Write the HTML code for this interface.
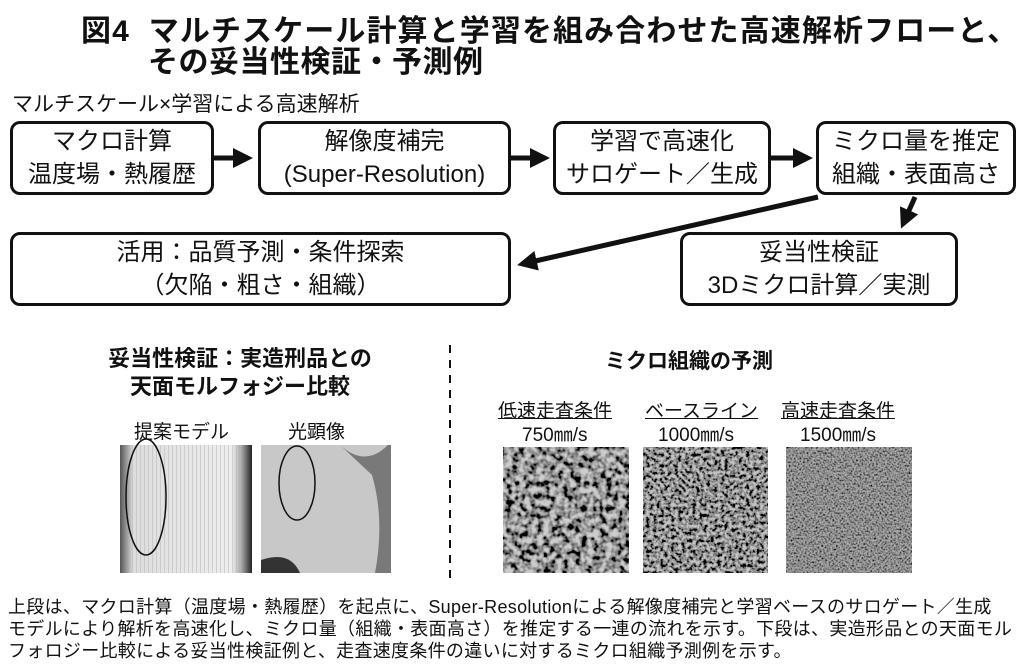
<!DOCTYPE html>
<html><head><meta charset="utf-8"><style>
body{margin:0;width:1024px;height:668px;background:#fff;position:relative;overflow:hidden;font-family:"Liberation Sans","Noto Sans CJK JP",sans-serif;color:#111}
.a{position:absolute;white-space:nowrap}
.box{position:absolute;border:3px solid #111;border-radius:10px;box-sizing:border-box;display:flex;flex-direction:column;justify-content:center;align-items:center;font-size:24px;line-height:33px}
</style></head><body>
<div class="a" style="left:81px;top:16px;font-size:30px;font-weight:bold;line-height:32px;letter-spacing:1.1px">図4&nbsp; マルチスケール計算と学習を組み合わせた高速解析フローと、</div>
<div class="a" style="left:148px;top:47px;font-size:30px;font-weight:bold;line-height:32px;letter-spacing:0.5px">その妥当性検証・予測例</div>
<div class="a" style="left:12px;top:88px;font-size:21px">マルチスケール×学習による高速解析</div>

<div class="box" style="left:10px;top:121px;width:204px;height:74px"><div>マクロ計算</div><div>温度場・熱履歴</div></div>
<div class="box" style="left:258px;top:121px;width:253px;height:74px"><div>解像度補完</div><div>(Super-Resolution)</div></div>
<div class="box" style="left:553px;top:121px;width:218px;height:74px"><div>学習で高速化</div><div>サロゲート／生成</div></div>
<div class="box" style="left:816px;top:121px;width:200px;height:74px"><div>ミクロ量を推定</div><div>組織・表面高さ</div></div>
<div class="box" style="left:10px;top:232px;width:501px;height:74px"><div>活用：品質予測・条件探索</div><div>（欠陥・粗さ・組織）</div></div>
<div class="box" style="left:680px;top:232px;width:278px;height:74px"><div>妥当性検証</div><div>3Dミクロ計算／実測</div></div>

<svg class="a" style="left:0;top:0" width="1024" height="668">
<defs><marker id="m" markerWidth="4" markerHeight="4" refX="3" refY="2" orient="auto" markerUnits="strokeWidth"><path d="M0,0L4,2L0,4z" fill="#111"/></marker>
<filter id="n1" x="0" y="0" width="1" height="1"><feTurbulence type="fractalNoise" baseFrequency="0.16" numOctaves="2" seed="3"/><feColorMatrix type="matrix" values="0 0 0 0 0  0 0 0 0 0  0 0 0 0 0  -3 0 0 0 2"/><feComposite in2="SourceGraphic" operator="over"/></filter>
<filter id="n2" x="0" y="0" width="1" height="1"><feTurbulence type="fractalNoise" baseFrequency="0.28" numOctaves="2" seed="5"/><feColorMatrix type="matrix" values="0 0 0 0 0  0 0 0 0 0  0 0 0 0 0  -3 0 0 0 2"/><feComposite in2="SourceGraphic" operator="over"/></filter>
<filter id="n3" x="0" y="0" width="1" height="1"><feTurbulence type="fractalNoise" baseFrequency="0.55" numOctaves="1" seed="7"/><feColorMatrix type="matrix" values="0 0 0 0 0  0 0 0 0 0  0 0 0 0 0  -2.5 0 0 0 1.6"/><feComposite in2="SourceGraphic" operator="over"/></filter>
<linearGradient id="g1" x1="0" x2="1"><stop offset="0" stop-color="#555"/><stop offset="0.1" stop-color="#ddd"/><stop offset="0.85" stop-color="#eee"/><stop offset="0.93" stop-color="#999"/><stop offset="1" stop-color="#222"/></linearGradient>
<pattern id="st" width="4" height="10" patternUnits="userSpaceOnUse"><rect width="1" height="10" fill="#bbb"/></pattern>
</defs>
<g stroke="#111" stroke-width="5" fill="none" marker-end="url(#m)">
<line x1="214" y1="158" x2="248" y2="158"/>
<line x1="511" y1="158" x2="545" y2="158"/>
<line x1="771" y1="158" x2="808" y2="158"/>
<line x1="818" y1="197" x2="522" y2="264"/>
<line x1="915" y1="197" x2="903" y2="224"/>
</g>
<line x1="450" y1="345" x2="450" y2="582" stroke="#111" stroke-width="2" stroke-dasharray="8,7"/>
<rect x="120" y="445" width="132" height="128" fill="url(#g1)"/>
<rect x="130" y="445" width="112" height="128" fill="url(#st)" opacity="0.6"/>
<ellipse cx="146" cy="497" rx="20" ry="58" fill="none" stroke="#111" stroke-width="1.5"/>
<rect x="261" y="445" width="130" height="128" fill="#c8c8c8"/>
<path d="M340,445 Q365,468 388,445 L391,445 L391,573 L375,573 Q385,520 372,475 Z" fill="#444" opacity="0.6"/>
<path d="M261,560 Q290,550 300,573 L261,573Z" fill="#333"/>
<ellipse cx="297" cy="483" rx="18" ry="37" fill="none" stroke="#111" stroke-width="1.5"/>
<rect x="503" y="447" width="126" height="126" fill="#ccc" filter="url(#n1)"/>
<rect x="643" y="447" width="125" height="126" fill="#c4c4c4" filter="url(#n2)"/>
<rect x="786" y="447" width="126" height="126" fill="#aaa" filter="url(#n3)"/>
</svg>

<div class="a" style="left:100px;top:345px;font-size:22px;font-weight:bold;line-height:28px;text-align:center;width:280px">妥当性検証：実造刑品との<br>天面モルフォジー比較</div>
<div class="a" style="left:134px;top:417px;font-size:19px">提案モデル</div>
<div class="a" style="left:288px;top:417px;font-size:19px">光顕像</div>
<div class="a" style="left:605px;top:345px;font-size:21px;font-weight:bold">ミクロ組織の予測</div>
<div class="a" style="left:498px;top:396px;font-size:19px;text-decoration:underline">低速走査条件</div>
<div class="a" style="left:645px;top:396px;font-size:19px;text-decoration:underline">ベースライン</div>
<div class="a" style="left:781px;top:396px;font-size:19px;text-decoration:underline">高速走査条件</div>
<div class="a" style="left:522px;top:420px;font-size:19px">750㎜/s</div>
<div class="a" style="left:658px;top:420px;font-size:19px">1000㎜/s</div>
<div class="a" style="left:800px;top:420px;font-size:19px">1500㎜/s</div>

<div class="a" style="left:8px;top:596px;font-size:18px;line-height:22px;letter-spacing:0.3px">上段は、マクロ計算（温度場・熱履歴）を起点に、Super-Resolutionによる解像度補完と学習ベースのサロゲート／生成<br>モデルにより解析を高速化し、ミクロ量（組織・表面高さ）を推定する一連の流れを示す。下段は、実造形品との天面モル<br>フォロジー比較による妥当性検証例と、走査速度条件の違いに対するミクロ組織予測例を示す。</div>
</body></html>
